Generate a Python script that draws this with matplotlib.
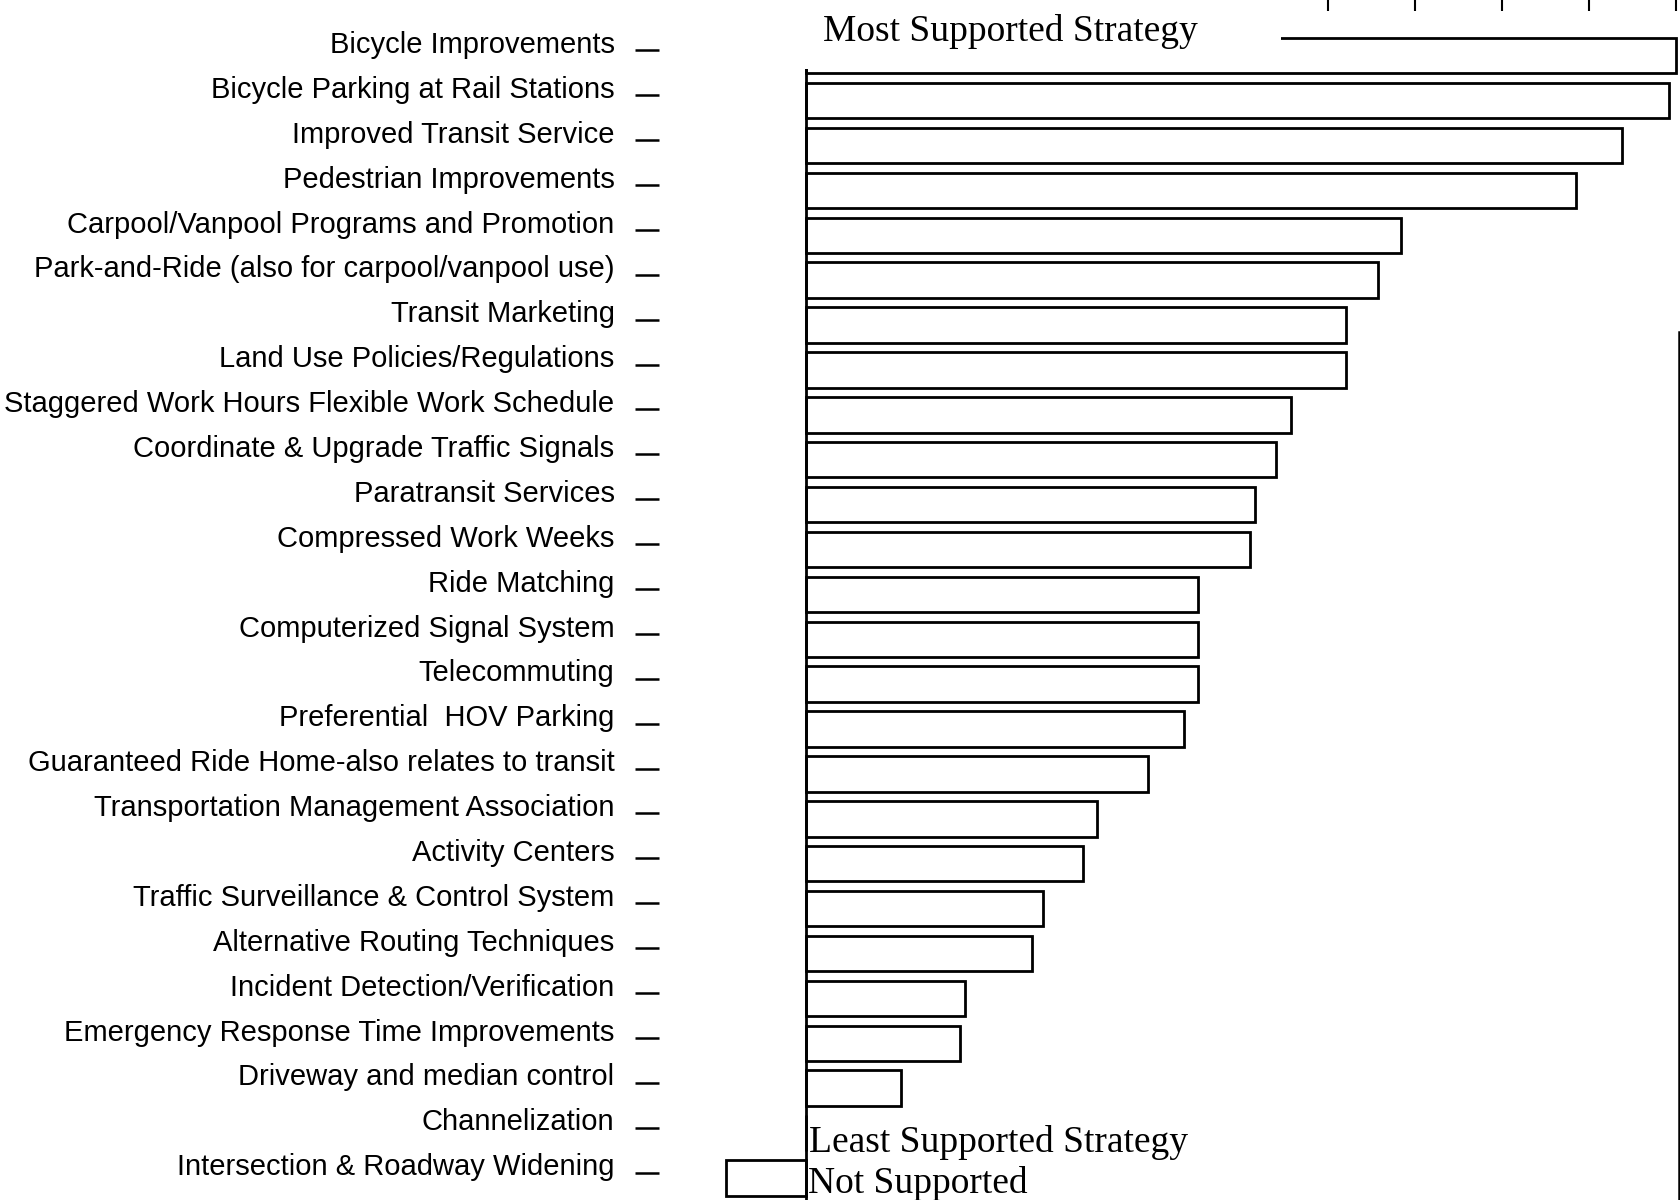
import numpy as np
import matplotlib
matplotlib.use("Agg")
import matplotlib.pyplot as plt
import matplotlib.transforms as mtransforms
from matplotlib.patches import Rectangle

# Strategies ranked from most to least supported
strategies = [
    "Bicycle Improvements",
    "Bicycle Parking at Rail Stations",
    "Improved Transit Service",
    "Pedestrian Improvements",
    "Carpool/Vanpool Programs and Promotion",
    "Park-and-Ride (also for carpool/vanpool use)",
    "Transit Marketing",
    "Land Use Policies/Regulations",
    "Staggered Work Hours Flexible Work Schedule",
    "Coordinate & Upgrade Traffic Signals",
    "Paratransit Services",
    "Compressed Work Weeks",
    "Ride Matching",
    "Computerized Signal System",
    "Telecommuting",
    "Preferential  HOV Parking",
    "Guaranteed Ride Home-also relates to transit",
    "Transportation Management Association",
    "Activity Centers",
    "Traffic Surveillance & Control System",
    "Alternative Routing Techniques",
    "Incident Detection/Verification",
    "Emergency Response Time Improvements",
    "Driveway and median control",
    "Channelization",
    "Intersection & Roadway Widening",
]
support = [10.0, 9.92, 9.37, 8.85, 6.84, 6.57, 6.2, 6.2, 5.57, 5.4, 5.16, 5.1,
           4.5, 4.5, 4.5, 4.34, 3.93, 3.34, 3.18, 2.72, 2.6, 1.83, 1.77, 1.09,
           0.0, -0.92]
top_ticks = [6, 7, 8, 9, 10]

fig = plt.figure(figsize=(16.81, 12), dpi=100)
ax = fig.add_axes([659 / 1681, 0, 1020 / 1681, 1])

pos = np.arange(len(strategies))
ax.barh(pos, support, height=0.79, color="white", edgecolor="black",
        linewidth=2.0, zorder=2)
ax.axvline(0, color="black", linewidth=2.0, zorder=2.5)

ax.set_xlim(-1.69, 10.03)
ax.set_ylim(25.49, -1.24)

# left labels with long dashes as ticks
ax.set_yticks(pos - 0.12)
ax.set_yticklabels(strategies, fontfamily="Liberation Sans", fontsize=21)
ax.tick_params(axis="y", direction="out", length=17, width=1.8, pad=15)
shift = mtransforms.ScaledTranslation(0, 6 / 72, fig.dpi_scale_trans)
for lab in ax.get_yticklabels():
    lab.set_transform(lab.get_transform() + shift)

# partial tick marks along the top
ax.xaxis.set_ticks_position("top")
ax.set_xticks(top_ticks)
ax.set_xticklabels([""] * len(top_ticks))
ax.tick_params(axis="x", direction="in", length=8, width=1.5)

for s in ["left", "top", "bottom"]:
    ax.spines[s].set_visible(False)
ax.spines["right"].set_linewidth(1.8)
ax.spines["right"].set_bounds(6.15, 25.49)

# white area behind the top caption
ax.add_patch(Rectangle((-0.1, -1.3), 5.56, 1.6, facecolor="white",
                       edgecolor="none", zorder=3))
ax.text(0.2, -0.33, "Most Supported Strategy", fontfamily="Liberation Serif",
        fontsize=27, va="baseline", ha="left", zorder=4)
ax.text(0.03, 24.42, "Least Supported Strategy", fontfamily="Liberation Serif",
        fontsize=27, va="baseline", ha="left", zorder=4)
ax.text(0.02, 25.33, "Not Supported", fontfamily="Liberation Serif",
        fontsize=27, va="baseline", ha="left", zorder=4)

fig.savefig("out.png", dpi=100)
